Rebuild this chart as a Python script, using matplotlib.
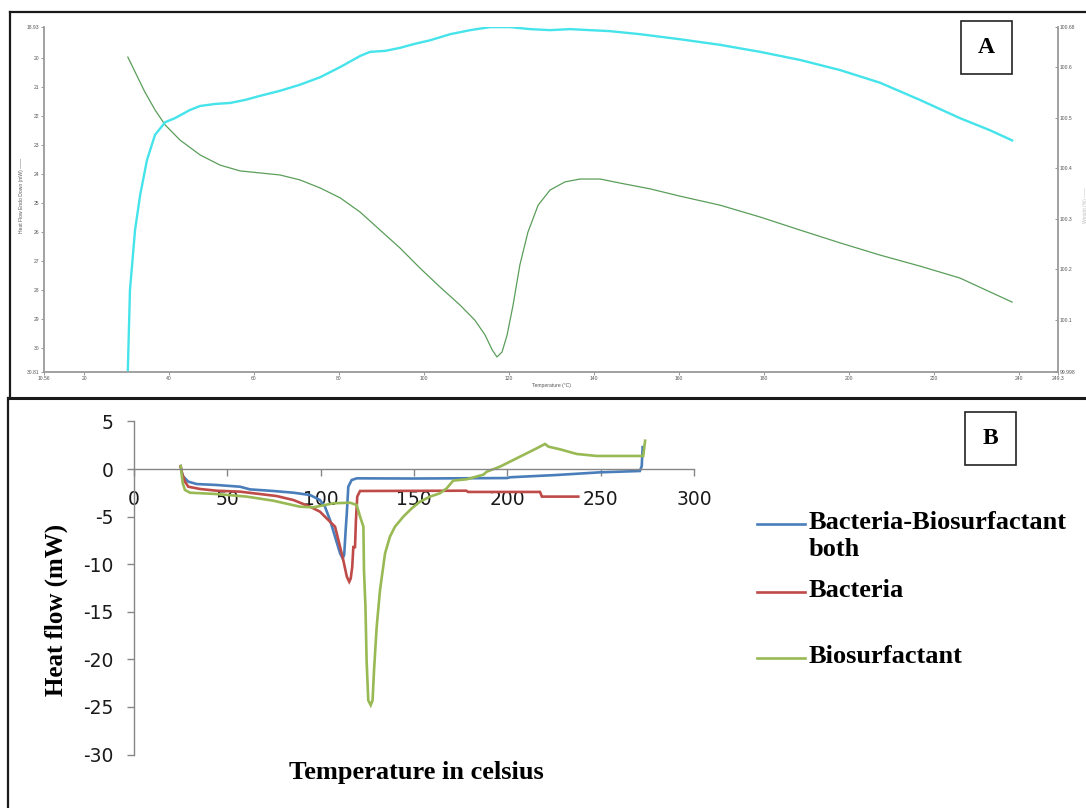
import matplotlib
matplotlib.use("Agg")
import matplotlib.pyplot as plt
from matplotlib.lines import Line2D
from matplotlib.patches import Rectangle

W, H = 1086, 808

# ---------------- Panel A: TGA/DSC thermogram ----------------
a_temp_heat = [30.3, 32.0, 34.3, 36.7, 39.1, 42.6, 47.3, 52.0, 56.7, 61.4, 66.1, 70.8,
               75.6, 80.3, 85.0, 89.7, 94.4, 99.1, 103.8, 108.5, 112.0, 114.4, 116.1,
               117.2, 118.4, 119.6, 121.0, 122.6, 124.5, 126.9, 129.7, 133.2, 136.8,
               141.5, 146.2, 153.3, 160.3, 169.7, 179.2, 188.6, 198.0, 207.4, 216.8,
               226.2, 238.5]
a_heat_flow = [19.98, 20.49, 21.18, 21.80, 22.32, 22.84, 23.35, 23.70, 23.90, 23.97,
               24.04, 24.21, 24.49, 24.83, 25.32, 25.94, 26.56, 27.25, 27.90, 28.52,
               29.04, 29.55, 30.07, 30.31, 30.14, 29.55, 28.52, 27.14, 26.01, 25.08,
               24.56, 24.28, 24.18, 24.18, 24.32, 24.52, 24.77, 25.08, 25.49, 25.94,
               26.38, 26.80, 27.18, 27.59, 28.42]

a_temp_weight = [30.3, 30.8, 32.0, 33.2, 34.8, 36.7, 39.1, 41.4, 44.9, 47.3, 50.8, 54.4,
                 57.9, 61.4, 66.1, 70.8, 75.6, 80.3, 85.0, 87.3, 90.9, 94.4, 97.9,
                 101.5, 106.2, 110.9, 115.6, 120.3, 125.0, 129.7, 134.4, 139.1, 143.8,
                 150.9, 160.3, 169.7, 179.2, 188.6, 198.0, 207.4, 216.8, 226.2, 233.3,
                 238.5]
a_weight = [100.001, 100.159, 100.278, 100.347, 100.416, 100.466, 100.491, 100.499,
            100.515, 100.523, 100.527, 100.529, 100.535, 100.543, 100.553, 100.565,
            100.580, 100.600, 100.622, 100.630, 100.632, 100.638, 100.646, 100.653,
            100.665, 100.673, 100.679, 100.679, 100.675, 100.673, 100.675, 100.673,
            100.671, 100.665, 100.655, 100.644, 100.630, 100.614, 100.594, 100.569,
            100.535, 100.499, 100.475, 100.455]

a_xticks = [10.56, 20, 40, 60, 80, 100, 120, 140, 160, 180, 200, 220, 240, 249.3]
a_xticklabels = ["10.56", "20", "40", "60", "80", "100", "120", "140", "160", "180",
                 "200", "220", "240", "249.3"]
a_lticks = [18.93, 20, 21, 22, 23, 24, 25, 26, 27, 28, 29, 30, 30.81]
a_lticklabels = ["18.93", "20", "21", "22", "23", "24", "25", "26", "27", "28", "29",
                 "30", "30.81"]
a_rticks = [99.998, 100.1, 100.2, 100.3, 100.4, 100.5, 100.6, 100.68]
a_rticklabels = ["99.998", "100.1", "100.2", "100.3", "100.4", "100.5", "100.6", "100.68"]

# ---------------- Panel B: DSC of the three samples ----------------
b_both_t = [25.0, 25.5, 26.4, 29.1, 33.6, 44.3, 56.8, 62.1, 74.6, 85.4, 94.3, 99.6,
            102.3, 105.0, 107.7, 110.4, 111.8, 112.6, 113.4, 114.0, 114.8, 116.6,
            119.3, 150.0, 200.0, 201.4, 226.4, 249.6, 271.0, 272.0, 272.5]
b_both_v = [0.3, -0.3, -0.8, -1.33, -1.58, -1.68, -1.86, -2.14, -2.31, -2.49, -2.73,
            -3.26, -3.96, -5.36, -7.11, -8.86, -9.4, -9.0, -6.4, -4.65, -1.86, -1.16,
            -0.98, -1.0, -0.95, -0.87, -0.63, -0.35, -0.21, 0.3, 2.3]

b_bact_t = [25.0, 25.8, 27.3, 29.1, 35.4, 44.3, 56.8, 67.5, 76.4, 85.4, 94.3, 99.6,
            104.1, 107.7, 109.5, 112.1, 114.0, 115.3, 116.1, 116.9, 117.5, 118.4, 118.9,
            119.6, 121.1, 178.0, 179.0, 217.5, 218.5, 238.0]
b_bact_v = [0.3, -0.5, -1.33, -1.86, -2.1, -2.28, -2.38, -2.63, -2.84, -3.26, -3.96,
            -4.48, -5.36, -6.06, -7.46, -9.56, -11.3, -11.84, -11.5, -10.3, -8.2, -8.2,
            -5.36, -2.9, -2.31, -2.28, -2.41, -2.41, -2.9, -2.9]

b_bios_t = [25.0, 26.1, 27.3, 30.0, 44.3, 60.4, 74.6, 88.9, 96.1, 106.8, 115.7, 119.3,
            121.1, 122.9, 123.2, 124.0, 124.6, 125.5, 126.8, 127.8, 128.6, 130.0, 131.8,
            134.5, 137.1, 139.8, 144.3, 148.8, 153.2, 158.6, 163.9, 167.5, 171.0, 178.2,
            187.1, 189.0, 196.0, 201.4, 210.4, 215.7, 220.2, 222.0, 228.2, 237.1, 247.8,
            272.8, 273.8]
b_bios_v = [0.3, -1.5, -2.2, -2.49, -2.63, -2.9, -3.33, -3.96, -4.03, -3.6, -3.54, -3.78,
            -5.0, -6.06, -10.6, -14.5, -20.1, -24.3, -24.8, -24.3, -21.1, -16.6, -12.7,
            -8.86, -7.11, -6.06, -5.0, -4.13, -3.43, -2.9, -2.55, -2.03, -1.22, -1.08,
            -0.6, -0.28, 0.24, 0.77, 1.65, 2.17, 2.63, 2.35, 2.07, 1.58, 1.37, 1.37, 2.97]

b_labels = ["Bacteria-Biosurfactant\nboth", "Bacteria", "Biosurfactant"]
b_colors = ["#4a7ebb", "#be4b48", "#98b954"]
b_xticks = [0, 50, 100, 150, 200, 250, 300]
b_yticks = [5, 0, -5, -10, -15, -20, -25, -30]


def fx(px):
    return px / W


def fy(py):
    return 1 - py / H


fig = plt.figure(figsize=(W / 100, H / 100), dpi=100)
fig.patch.set_facecolor("white")

serif = ["Liberation Serif", "DejaVu Serif"]
sans_small = ["Liberation Sans", "DejaVu Sans"]

# ---- Panel A axes ----
axA = fig.add_axes([fx(44), fy(371.5), fx(1058) - fx(44), fy(26.6) - fy(371.5)])
axA.plot(a_temp_heat, a_heat_flow, color="#5a9e5a", lw=0.9)
axA.set_xlim(10.56, 249.3)
axA.set_ylim(30.81, 18.93)
axA.set_xticks(a_xticks)
axA.set_xticklabels(a_xticklabels, fontsize=3.6, color="#555555", family=sans_small)
axA.set_yticks(a_lticks)
axA.set_yticklabels(a_lticklabels, fontsize=3.6, color="#555555", family=sans_small)
axA.tick_params(axis="both", length=2, width=0.6, color="#888888", pad=1.5)
for s in ("top", "right"):
    axA.spines[s].set_visible(False)
for s in ("left", "bottom"):
    axA.spines[s].set_color("#9a9a9a")
    axA.spines[s].set_linewidth(1.3)

axA2 = axA.twinx()
axA2.plot(a_temp_weight, a_weight, color="#45e3ea", lw=1.7)
axA2.set_ylim(99.998, 100.68)
axA2.set_yticks(a_rticks)
axA2.set_yticklabels(a_rticklabels, fontsize=3.6, color="#555555", family=sans_small)
axA2.tick_params(axis="y", length=2, width=0.6, color="#888888", pad=1.5, direction="in")
for s in ("top", "left", "bottom"):
    axA2.spines[s].set_visible(False)
axA2.spines["right"].set_color("#9a9a9a")
axA2.spines["right"].set_linewidth(1.3)

fig.text(fx(22), fy(195), "Heat Flow Endo Down (mW) \u2014\u2014", rotation=90,
         fontsize=3.6, color="#555555", ha="center", va="center", family=sans_small)
fig.text(fx(551), fy(386), "Temperature (\u00b0C)", fontsize=3.6, color="#555555",
         ha="center", va="center", family=sans_small)
fig.text(fx(1083), fy(205), "Weight (%) \u2014\u2014", rotation=90, fontsize=3.6,
         color="#bbbbbb", ha="left", va="center", family=sans_small)

# panel label A
fig.add_artist(Rectangle((fx(961), fy(74)), fx(1012) - fx(961), fy(21) - fy(74),
                         transform=fig.transFigure, fill=False, ec="#222222", lw=1.2))
fig.text(fx(986.5), fy(47.5), "A", fontsize=17, fontweight="bold", family=serif,
         ha="center", va="center")

# ---- Panel B axes ----
axB = fig.add_axes([fx(134), fy(754.6), fx(694) - fx(134), fy(421.4) - fy(754.6)])
b_series = [(b_both_t, b_both_v), (b_bact_t, b_bact_v), (b_bios_t, b_bios_v)]
for (t, v), c in zip(b_series, b_colors):
    axB.plot(t, v, color=c, lw=1.9, solid_joinstyle="miter")
axB.set_xlim(0, 300)
axB.set_ylim(-30, 5)
axB.set_xticks(b_xticks)
axB.set_yticks(b_yticks)
axB.set_xticklabels([str(x) for x in b_xticks])
axB.set_yticklabels([str(y) for y in b_yticks])
axB.tick_params(axis="both", labelsize=13.5, labelcolor="#1a1a1a", color="#868686",
                length=5, width=1)
axB.tick_params(axis="x", pad=10)
axB.tick_params(axis="y", pad=10)
for lab in axB.get_xticklabels() + axB.get_yticklabels():
    lab.set_family(["DejaVu Sans"])
axB.spines["top"].set_visible(False)
axB.spines["right"].set_visible(False)
axB.spines["bottom"].set_position(("data", 0))
for s in ("left", "bottom"):
    axB.spines[s].set_color("#868686")
    axB.spines[s].set_linewidth(1)
axB.patch.set_alpha(0)

fig.text(fx(56), fy(610), "Heat flow (mW)", rotation=90, fontsize=18,
         fontweight="bold", family=serif, ha="center", va="center")
fig.text(fx(416), fy(773), "Temperature in celsius", fontsize=19, fontweight="bold",
         family=serif, ha="center", va="center")

# legend entries
leg_rows = [524, 592, 658]
for row, lab, c in zip(leg_rows, b_labels, b_colors):
    fig.add_artist(Line2D([fx(757), fx(805)], [fy(row), fy(row)], color=c, lw=1.9,
                          transform=fig.transFigure))
    fig.text(fx(809), fy(row - 13), lab, fontsize=19, fontweight="bold", family=serif,
             ha="left", va="top", linespacing=1.25)

# panel label B
fig.add_artist(Rectangle((fx(965), fy(465)), fx(1016) - fx(965), fy(412) - fy(465),
                         transform=fig.transFigure, fill=False, ec="#222222", lw=1.2))
fig.text(fx(990.5), fy(438.5), "B", fontsize=17, fontweight="bold", family=serif,
         ha="center", va="center")

# panel frames
frame_kw = dict(color="#1a1a1a", transform=fig.transFigure)
fig.add_artist(Line2D([fx(10), fx(1086)], [fy(12), fy(12)], lw=1.6, **frame_kw))
fig.add_artist(Line2D([fx(10), fx(10)], [fy(12), fy(398)], lw=1.6, **frame_kw))
fig.add_artist(Line2D([fx(8), fx(1086)], [fy(398), fy(398)], lw=2.2, **frame_kw))
fig.add_artist(Line2D([fx(8), fx(8)], [fy(398), fy(808)], lw=1.6, **frame_kw))

fig.savefig("out.png", dpi=100, facecolor="white")
